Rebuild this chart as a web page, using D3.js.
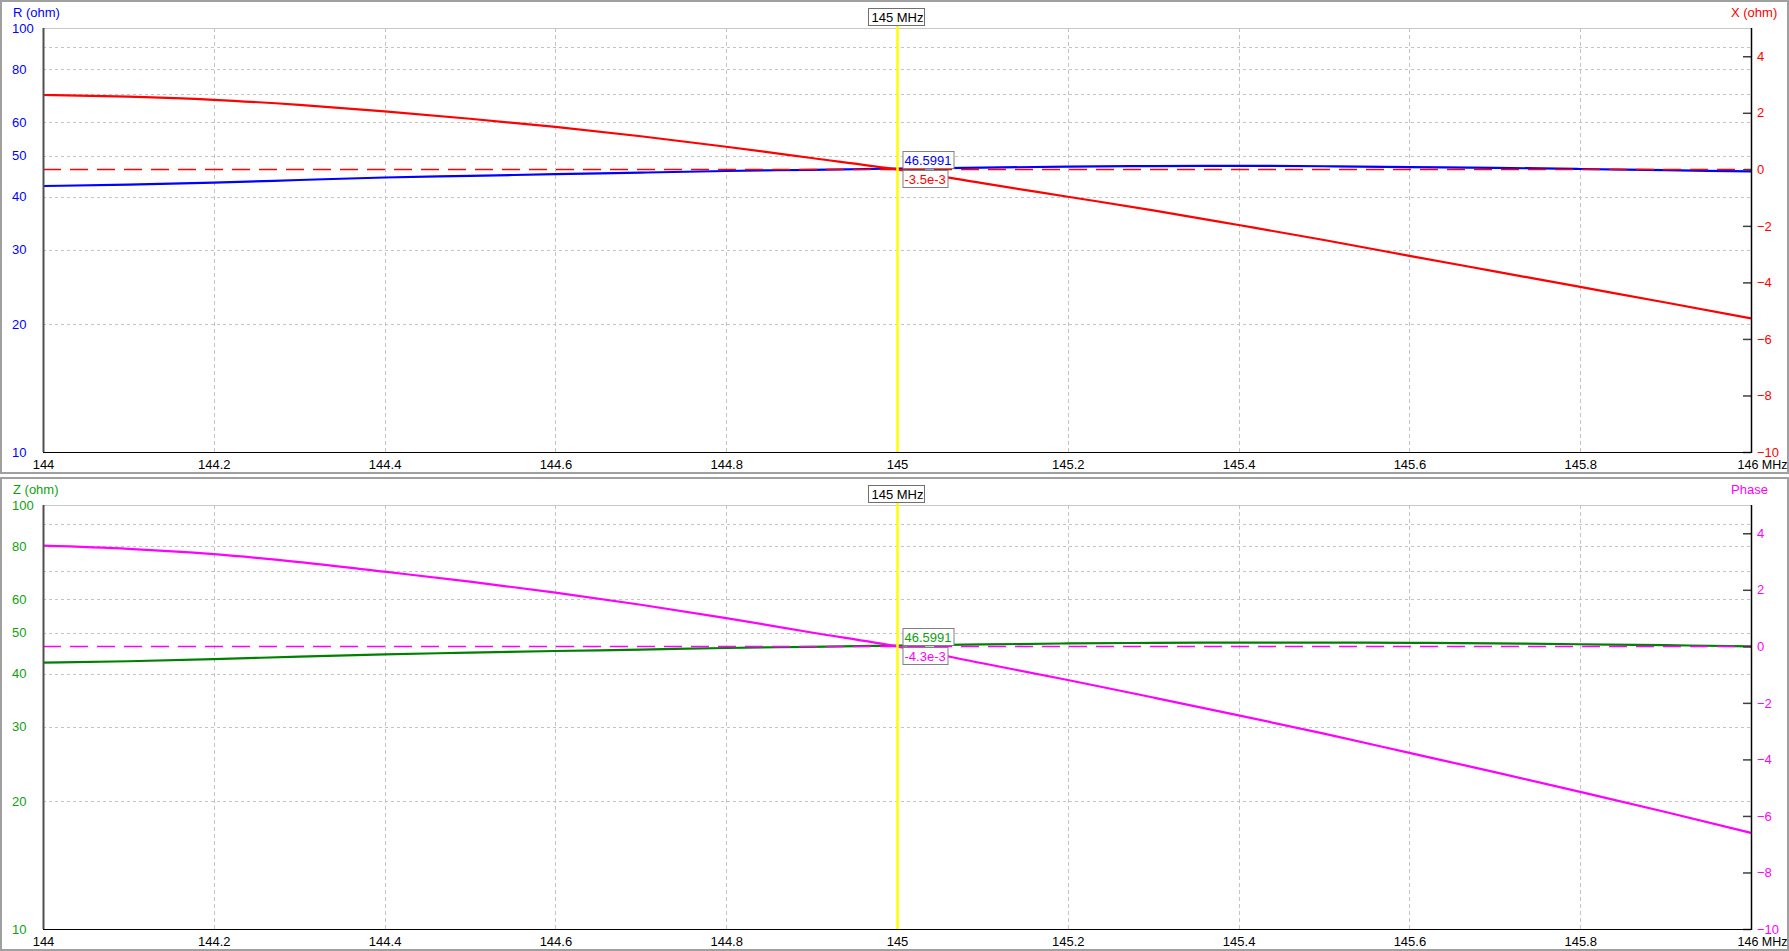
<!DOCTYPE html>
<html>
<head>
<meta charset="utf-8">
<script src="https://cdn.jsdelivr.net/npm/d3@7"></script>
<style>
body { margin: 0; background: #fff; overflow: hidden; }
svg { display: block; font-family: "Liberation Sans", Arial, sans-serif; font-size: 13px; }
</style>
</head>
<body>
<div id="chart"></div>
<script>
const width = 1789;
const height = 951;

// sweep, MHz
const freqs = [144.0, 144.1, 144.2, 144.3, 144.4, 144.5, 144.6, 144.7, 144.8, 144.9,
               145.0, 145.1, 145.2, 145.3, 145.4, 145.5, 145.6, 145.7, 145.8, 145.9, 146.0];

const rValues = [42.4, 42.7, 43.2, 43.8, 44.4, 44.8, 45.2, 45.6, 46.0, 46.3,
                 46.6, 46.85, 47.1, 47.25, 47.3, 47.2, 47.0, 46.8, 46.5, 46.2, 45.9];
const xValues = [2.63, 2.57, 2.46, 2.28, 2.05, 1.79, 1.50, 1.17, 0.80, 0.40,
                 -0.0035, -0.49, -0.97, -1.45, -1.97, -2.50, -3.06, -3.61, -4.16, -4.71, -5.27];
const zValues = [42.5, 42.8, 43.3, 43.9, 44.45, 44.85, 45.25, 45.6, 46.0, 46.3,
                 46.6, 46.9, 47.15, 47.3, 47.35, 47.35, 47.3, 47.15, 46.95, 46.7, 46.4];
const phaseValues = [3.56, 3.45, 3.26, 2.98, 2.64, 2.29, 1.90, 1.47, 1.00, 0.49,
                     -0.0043, -0.60, -1.19, -1.81, -2.44, -3.09, -3.77, -4.45, -5.15, -5.86, -6.60];

const freqTicks = [144, 144.2, 144.4, 144.6, 144.8, 145, 145.2, 145.4, 145.6, 145.8, 146];
const leftTicks = [100, 80, 60, 50, 40, 30, 20, 10];
const leftGrid = [90, 80, 70, 60, 50, 40, 30, 20];
const rightTicks = [4, 2, 0, -2, -4, -6, -8, -10];

const cursorFreq = 145;
const topCursorLabels = ["46.5991", "-3.5e-3"];
const bottomCursorLabels = ["46.5991", "-4.3e-3"];

const plotLeft = 43, plotRight = 1751, plotTop = 28, plotBottom = 452;

let xScale = d3.scaleLinear().domain([144, 146]).range([plotLeft, plotRight]);
let logScale = d3.scaleLog().domain([10, 100]).range([plotBottom, plotTop]);
let linScale = d3.scaleLinear().domain([-10, 5]).range([plotBottom, plotTop]);

const panels = [
    {y0: 0, leftTitle: "R (ohm)", rightTitle: "X (ohm)", leftColor: "#0000ff", leftText: "#0000ff",
     rightColor: "#ff0000", leftValues: rValues, rightValues: xValues, labels: topCursorLabels},
    {y0: 477, leftTitle: "Z (ohm)", rightTitle: "Phase", leftColor: "#008000", leftText: "#10a010",
     rightColor: "#ff00ff", leftValues: zValues, rightValues: phaseValues, labels: bottomCursorLabels}
];

const svg = d3.select("#chart").append("svg")
    .attr("width", width)
    .attr("height", height);

svg.append("rect")
    .attr("width", width)
    .attr("height", height)
    .attr("fill", "#fff");

panels.forEach(p => {
    const g = svg.append("g").attr("transform", `translate(0,${p.y0})`);

    // sunken window frame
    g.append("rect")
        .attr("x", 1).attr("y", 1)
        .attr("width", width - 2).attr("height", 472)
        .attr("fill", "none")
        .attr("stroke", "#a0a0a0")
        .attr("stroke-width", 2);

    // plot top edge
    g.append("line")
        .attr("x1", plotLeft).attr("x2", plotRight)
        .attr("y1", plotTop + 0.5).attr("y2", plotTop + 0.5)
        .attr("stroke", "#c8c8c8");

    // grid
    g.append("g")
        .selectAll("line")
        .data(leftGrid)
        .join("line")
        .attr("x1", plotLeft).attr("x2", plotRight)
        .attr("y1", d => Math.round(logScale(d)) + 0.5)
        .attr("y2", d => Math.round(logScale(d)) + 0.5)
        .attr("stroke", "#c4c4c4")
        .attr("stroke-dasharray", "3,3");

    g.append("g")
        .selectAll("line")
        .data(freqTicks.slice(1, -1))
        .join("line")
        .attr("x1", d => Math.round(xScale(d)) + 0.5)
        .attr("x2", d => Math.round(xScale(d)) + 0.5)
        .attr("y1", plotTop).attr("y2", plotBottom)
        .attr("stroke", "#c4c4c4")
        .attr("stroke-dasharray", "4,3");

    // series
    const leftLine = d3.line()
        .x((d, i) => xScale(freqs[i]))
        .y(d => logScale(d))
        .curve(d3.curveMonotoneX);
    const rightLine = d3.line()
        .x((d, i) => xScale(freqs[i]))
        .y(d => linScale(d))
        .curve(d3.curveMonotoneX);

    g.append("path")
        .attr("d", leftLine(p.leftValues))
        .attr("fill", "none")
        .attr("stroke", p.leftColor)
        .attr("stroke-width", 2.2);

    g.append("path")
        .attr("d", rightLine(p.rightValues))
        .attr("fill", "none")
        .attr("stroke", p.rightColor)
        .attr("stroke-width", 2.2);

    // zero reference of the right scale
    g.append("line")
        .attr("x1", plotLeft).attr("x2", plotRight)
        .attr("y1", Math.round(linScale(0)) + 0.5)
        .attr("y2", Math.round(linScale(0)) + 0.5)
        .attr("stroke", p.rightColor)
        .attr("stroke-width", 1.3)
        .attr("stroke-dasharray", "18,9");

    // axes
    const leftAxis = g.append("g")
        .attr("transform", `translate(${plotLeft},0)`)
        .call(d3.axisLeft(logScale).tickValues(leftTicks).tickSize(0).tickFormat(d3.format("d")));
    leftAxis.select(".domain").remove();
    leftAxis.selectAll("text")
        .attr("x", 12 - plotLeft)
        .attr("text-anchor", "start")
        .attr("fill", p.leftText)
        .style("font-size", "13px")
        .style("font-family", "Liberation Sans, Arial, sans-serif");

    const rightAxis = g.append("g")
        .attr("transform", `translate(${plotRight},0)`)
        .call(d3.axisRight(linScale).tickValues(rightTicks).tickSize(-8).tickPadding(6).tickFormat(d3.format("d")));
    rightAxis.select(".domain").remove();
    rightAxis.selectAll(".tick line").attr("stroke", "#404040").attr("stroke-width", 1.5);
    rightAxis.selectAll("text")
        .attr("fill", p.rightColor)
        .style("font-size", "13px")
        .style("font-family", "Liberation Sans, Arial, sans-serif");

    const bottomAxis = g.append("g")
        .attr("transform", `translate(0,${plotBottom})`)
        .call(d3.axisBottom(xScale).tickValues(freqTicks).tickSize(0).tickPadding(8)
            .tickFormat(d => d === 146 ? "146 MHz" : String(d)));
    bottomAxis.select(".domain").remove();
    bottomAxis.selectAll("text")
        .attr("fill", "#000")
        .style("font-size", "13px")
        .style("font-family", "Liberation Sans, Arial, sans-serif");
    bottomAxis.selectAll("text").filter(d => d === 146)
        .attr("text-anchor", "start")
        .attr("x", -14)
        .attr("textLength", 50)
        .attr("lengthAdjust", "spacingAndGlyphs");

    g.append("line")
        .attr("x1", plotLeft + 0.5).attr("x2", plotLeft + 0.5)
        .attr("y1", plotTop).attr("y2", plotBottom)
        .attr("stroke", "#505050")
        .attr("stroke-width", 2);
    g.append("line")
        .attr("x1", plotLeft).attr("x2", plotRight)
        .attr("y1", plotBottom + 0.5).attr("y2", plotBottom + 0.5)
        .attr("stroke", "#000");
    g.append("line")
        .attr("x1", plotRight + 0.5).attr("x2", plotRight + 0.5)
        .attr("y1", plotTop).attr("y2", plotBottom + 1)
        .attr("stroke", "#000")
        .attr("stroke-width", 1.5);

    // axis titles
    g.append("text")
        .attr("x", 13).attr("y", 17)
        .attr("fill", p.leftText)
        .text(p.leftTitle);
    g.append("text")
        .attr("x", 1731).attr("y", 17)
        .attr("fill", p.rightColor)
        .text(p.rightTitle);

    // cursor
    const cx = Math.round(xScale(cursorFreq)) + 0.5;
    g.append("line")
        .attr("x1", cx).attr("x2", cx)
        .attr("y1", 26).attr("y2", plotBottom)
        .attr("stroke", "#ffff00")
        .attr("stroke-width", 2.5);

    const titleBox = g.append("rect");
    const title = g.append("text")
        .attr("x", cx).attr("y", 22)
        .attr("text-anchor", "middle")
        .attr("fill", "#000")
        .text(`${cursorFreq} MHz`);
    const tw = title.node().getComputedTextLength();
    titleBox
        .attr("x", Math.round(cx - tw / 2) - 2.5).attr("y", 8.5)
        .attr("width", Math.round(tw) + 4).attr("height", 17)
        .attr("fill", "#fff")
        .attr("stroke", "#707070");

    const vy = Math.round(logScale(p.leftValues[freqs.indexOf(cursorFreq)]));
    const boxTops = [vy - 18, vy + 1];
    const boxColors = [p.leftText, p.rightColor];
    p.labels.forEach((lab, i) => {
        const box = g.append("rect");
        const t = g.append("text")
            .attr("x", cx + 7).attr("y", boxTops[i] + 14)
            .attr("fill", boxColors[i])
            .text(lab);
        const w = t.node().getComputedTextLength();
        box
            .attr("x", cx + 5.5).attr("y", boxTops[i] + 0.5)
            .attr("width", Math.round(w) + 4).attr("height", 17)
            .attr("fill", "#fff")
            .attr("stroke", "#808080");
    });
});
</script>
</body>
</html>
